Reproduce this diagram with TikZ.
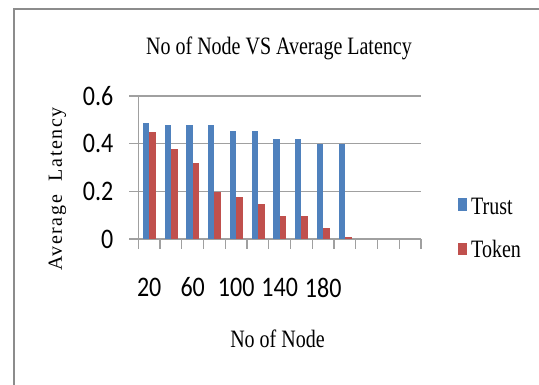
\documentclass[tikz,border=0pt]{standalone}
\usepackage{fontspec}
\setmainfont{Liberation Serif}
\newfontfamily\chartsans{Carlito}
\newfontfamily\spacedserif[LetterSpace=8]{Liberation Serif}
\usepackage{tikz}
\definecolor{trustblue}{HTML}{4F81BD}
\definecolor{tokenred}{HTML}{C0504D}
\definecolor{gridgray}{HTML}{A0A0A0}
\definecolor{framegray}{HTML}{8C8C8C}

\begin{document}
\begin{tikzpicture}[x=1pt,y=-1pt,
		serif label/.style={font=\fontsize{20}{24}\selectfont,inner sep=0pt,yscale=1.25},
		tick label/.style={font=\chartsans\fontsize{24}{28}\selectfont,inner sep=0pt,yscale=1.18},
		grid line/.style={draw=gridgray,line width=1.2pt}]
	\useasboundingbox[fill=white] (0,0) rectangle (539,385);
	% outer frame
	\draw[framegray,line width=2pt] (13.7,385) -- (13.7,8.7) -- (539,8.7);
	% grid and axes
	\foreach \v in {0,0.2,0.4,0.6}
		\draw[grid line] (129,{239-238.3*\v}) -- (421,{239-238.3*\v});
	\draw[grid line] (138.3,96) -- (138.3,249);
	\foreach \k in {1,...,13}
		\draw[grid line] ({138.3+21.75*\k},239) -- ({138.3+21.75*\k},249);
	% bars
	\foreach \t/\r [count=\i] in {0.487/0.45,0.48/0.378,0.48/0.318,0.48/0.198,
			0.452/0.176,0.452/0.147,0.42/0.098,0.42/0.098,0.40/0.045,0.40/0.008}{
		\pgfmathsetmacro\c{138.3+21.75*(\i-0.5)}
		\fill[trustblue] ({\c-6.3},239) rectangle (\c,{239-238.3*\t});
		\fill[tokenred] (\c,239) rectangle ({\c+6.6},{239-238.3*\r});
	}
	% y tick labels
	\node[tick label,anchor=east] (y6) at (113.5,96) {0.6};
	\node[tick label,anchor=east] (y4) at (113.5,143.7) {0.4};
	\node[tick label,anchor=east] (y2) at (113.5,191.4) {0.2};
	\node[tick label,anchor=east] (y0) at (113.5,239) {0};
	% x tick labels
	\node[tick label] (x20) at (149.2,287.5) {20};
	\node[tick label] (x60) at (192.7,287.5) {60};
	\node[tick label] (x100) at (236.2,287.5) {100};
	\node[tick label] (x140) at (279.7,287.5) {140};
	\node[tick label] (x180) at (323.2,287.5) {180};
	% titles
	\node[serif label,anchor=base] (title) at (279,55) {No of Node VS Average Latency};
	\node[serif label,anchor=base] (xtitle) at (277.5,348) {No of Node};
	\node[font=\spacedserif\fontsize{20}{24}\selectfont,inner sep=0pt,rotate=90] (ytitle) at (57.5,189) {Average\hspace{0.7em}Latency};
	% legend
	\fill[trustblue] (457.5,198.5) rectangle (466.5,211);
	\fill[tokenred] (457.5,243) rectangle (466.5,255);
	\node[serif label,anchor=base west] (trust) at (471,215) {Trust};
	\node[serif label,anchor=base west] (token) at (471,258) {Token};
\end{tikzpicture}
\end{document}
